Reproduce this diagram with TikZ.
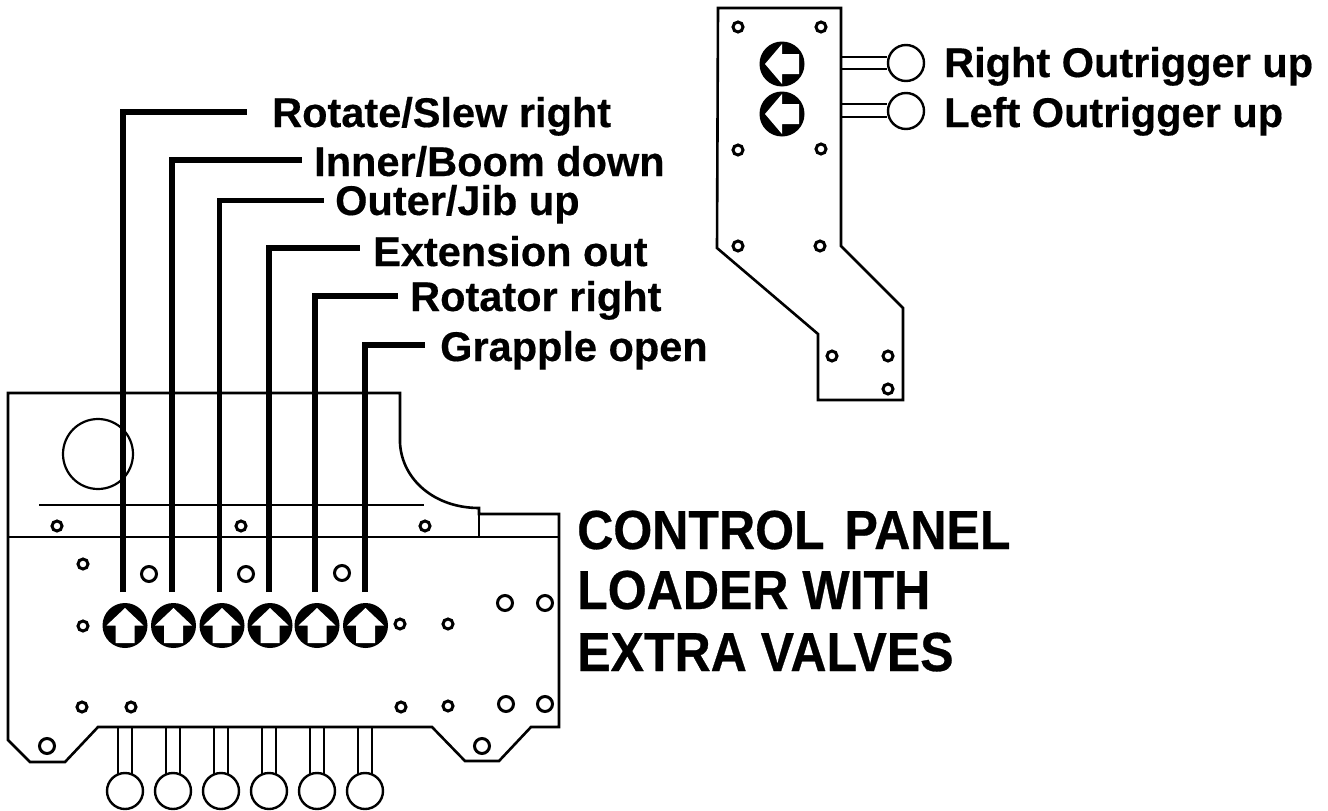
\documentclass[tikz,border=0pt]{standalone}
\usepackage{fontspec}
\setmainfont{Liberation Sans}
\newfontfamily\labelfont[FakeBold=0.4]{Liberation Sans Bold}
\newfontfamily\titlefont[FakeStretch=0.91,FakeBold=0.5]{Liberation Sans Bold}
\begin{document}
\begin{tikzpicture}[x=1pt,y=-1pt,
  outline/.style={draw=black,line width=2.6pt,line join=miter},
  thinline/.style={draw=black,line width=2.2pt},
  hole/.style={circle,draw=black,line width=3pt,fill=white,inner sep=0pt,minimum size=10pt},
  bighole/.style={circle,draw=black,line width=3pt,fill=white,inner sep=0pt,minimum size=15pt},
  knob/.style={circle,fill=black,inner sep=0pt,minimum size=45pt},
  bulb/.style={circle,draw=black,line width=2.4pt,fill=white,inner sep=0pt,minimum size=36pt},
  leader/.style={draw=black,line join=miter},
  label/.style={anchor=base west,inner sep=0pt,font=\labelfont\fontsize{41.5}{41.5}\selectfont},
  title/.style={anchor=base west,inner sep=0pt,font=\titlefont\fontsize{55}{55}\selectfont},
  whitearrow/.style={fill=white,draw=none}]
\useasboundingbox (0,0) rectangle (1328,811);
\fill[white] (0,0) rectangle (1328,811);
% main panel
\draw[outline] (8,393) -- (400,393) -- (400,443) .. controls (402,480) and (435,508) .. (479,508) -- (479,514) -- (559,514) -- (559,727) -- (531,727) -- (499,761) -- (465,761) -- (432,727) -- (98,727) -- (65,762) -- (30,762) -- (8,740) -- cycle;
\draw[thinline] (8,537) -- (559,537);
\draw[thinline] (479,508) -- (479,537);
\draw[thinline] (39,505) -- (424,505);
\draw[thinline] (98,454) circle (35);
% stems and bulbs
\foreach \n/\x in {a/125,b/173,c/221,d/269,e/317,f/365}{
  \draw[thinline] (\x-7,727) -- (\x-7,775);
  \draw[thinline] (\x+7,727) -- (\x+7,775);
  \node[bulb] (bulb\n) at (\x,791) {};
}
% holes
\foreach \n/\x/\y in {1/57/526,2/241/526,3/425/526,4/83/564,5/83/626,6/400/624,7/448/624,8/82/707,9/131/707,10/401/707,11/448/706,
  12/738/27,13/821/27,14/738/150,15/821/149,16/738/246,17/820/246,18/832/356,19/888/356,20/888/389}{
  \node[hole] (h\n) at (\x,\y) {};
}
\foreach \n/\x/\y in {1/149/574,2/246/574,3/342/573,4/505/603,5/545/603,6/506/704,7/545/704,8/47/746,9/482/746}{
  \node[bighole] (g\n) at (\x,\y) {};
}
% knobs with up arrows
\foreach \n/\x in {a/125,b/173.5,c/222,d/270,e/317,f/365.5}{
  \node[knob] (knob\n) at (\x,625.5) {};
  \fill[whitearrow] (\x,608) -- (\x+18.5,625.5) -- (\x+9.5,625.5) -- (\x+9.5,643) -- (\x-9.5,643) -- (\x-9.5,625.5) -- (\x-18.5,625.5) -- cycle;
}
% leaders
\foreach \n/\x/\y/\e/\w in {a/123/112/247/6.5,b/172/160/302/6.5,c/219/200/324/5,d/269/248/360/6.5,e/315/296/398/6.5,f/365/345/425/6}{
  \coordinate (ls\n) at (\x,592);
  \coordinate (lc\n) at (\x,\y);
  \coordinate (le\n) at (\e,\y);
  \draw[leader,line width=\w pt] (ls\n) -- (lc\n) -- (le\n);
}
% labels
\node[label] (t1) at (272,127) {Rotate/Slew right};
\node[label] (t2) at (314,176) {Inner/Boom down};
\node[label] (t3) at (335,215) {Outer/Jib up};
\node[label] (t4) at (373,266) {Extension out};
\node[label] (t5) at (410,311) {Rotator right};
\node[label] (t6) at (440,361) {Grapple open};
\node[label] (t7) at (944,77) {Right Outrigger up};
\node[label] (t8) at (944,127) {Left Outrigger up};
\node[title] (c1) at (577,549) {CONTROL\hspace{6pt} PANEL};
\node[title] (c2) at (577,609) {LOADER WITH};
\node[title] (c3) at (577,671) {EXTRA VALVES};
% right panel
\draw[outline] (718,8) -- (841,8) -- (841,246) -- (903,308) -- (903,400) -- (818,400) -- (818,334) -- (717,248) -- cycle;
\foreach \n/\y/\yb/\sa/\sb in {u/64/63/57/69,v/114/111/104/117}{
  \draw[thinline] (841,\sa) -- (887,\sa);
  \draw[thinline] (841,\sb) -- (887,\sb);
  \node[bulb] (bulb\n) at (906,\yb) {};
  \node[knob] (knob\n) at (782,\y) {};
  \fill[whitearrow] (765,\y) -- (782,\y-20) -- (782,\y-10) -- (799,\y-10) -- (799,\y+10) -- (782,\y+10) -- (782,\y+20) -- cycle;
}
\end{tikzpicture}
\end{document}
